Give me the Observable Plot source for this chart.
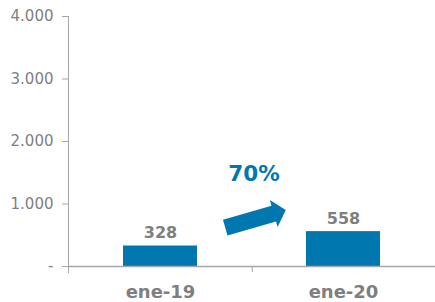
<!DOCTYPE html>
<html>
<head>
<meta charset="utf-8">
<script src="https://cdn.jsdelivr.net/npm/d3@7"></script>
<script src="https://cdn.jsdelivr.net/npm/@observablehq/plot@0.6"></script>
<style>
  html, body { margin: 0; padding: 0; background: #fff; }
  #chart svg { display: block; }
</style>
</head>
<body>
<div id="chart"></div>
<script>
const categories = ["ene-19", "ene-20"];
const values = [328, 558];
const yTicks = [0, 1000, 2000, 3000, 4000];
const yTickLabels = ["-", "1.000", "2.000", "3.000", "4.000"];
const arrowFromY = 610;   // arrow tail level (data units)
const arrowToY = 900;     // arrow tip level (data units)
const growthLabelY = 1376;

const data = categories.map((c, i) => ({cat: c, value: values[i]}));
const growth = Math.round((values[1] / values[0] - 1) * 100) + "%";

const blue = "#0078AF";
const gray = "#7f7f7f";
const lineGray = "#a6a6a6";

// block arrow drawn through the scales
function blockArrow(index, scales, values, dim) {
  const cx = dim.marginLeft + (dim.width - dim.marginLeft - dim.marginRight) / 2 + 4;
  const y0 = scales.y(arrowFromY), y1 = scales.y(arrowToY);
  const halfLen = 31.5;
  const ang = Math.atan2(y1 - y0, 2 * halfLen);
  const cy = (y0 + y1) / 2;
  const ux = Math.cos(ang), uy = Math.sin(ang);
  const px = -uy, py = ux;
  const tailX = cx - ux * halfLen, tailY = cy - uy * halfLen;
  const tipX = cx + ux * halfLen, tipY = cy + uy * halfLen;
  const headLen = 12.5, shaftW = 8.2, headW = 14;
  const bx = tipX - ux * headLen, by = tipY - uy * headLen;
  const pts = [
    [tailX + px * shaftW, tailY + py * shaftW],
    [bx + px * shaftW, by + py * shaftW],
    [bx + px * headW, by + py * headW],
    [tipX, tipY],
    [bx - px * headW, by - py * headW],
    [bx - px * shaftW, by - py * shaftW],
    [tailX - px * shaftW, tailY - py * shaftW]
  ];
  const ns = "http://www.w3.org/2000/svg";
  const path = document.createElementNS(ns, "path");
  path.setAttribute("d", "M" + pts.map(p => p.join(",")).join("L") + "Z");
  path.setAttribute("fill", blue);
  return path;
}

const chart = Plot.plot({
  width: 435,
  height: 302,
  marginLeft: 68,
  marginRight: 0,
  marginTop: 16,
  marginBottom: 36,
  style: {fontFamily: "'DejaVu Sans', Verdana, sans-serif", fontSize: "15px", color: gray, background: "#fff"},
  x: {domain: categories, paddingInner: 0.597, paddingOuter: 0.2985, axis: null},
  y: {domain: [0, 4000], axis: null},
  marks: [
    Plot.barY(data, {x: "cat", y: "value", fill: blue}),
    Plot.ruleY([0], {stroke: lineGray, strokeWidth: 1.5}),
    Plot.axisY({ticks: yTicks, tickFormat: (d) => yTickLabels[yTicks.indexOf(d)], tickSize: 6, tickPadding: 9, stroke: lineGray, fill: gray, fontSize: 15, label: null}),
    Plot.frame({anchor: "left", stroke: lineGray, insetBottom: -6}),
    Plot.ruleX([categories[0]], {stroke: lineGray, dx: 91.75, insetTop: 250, insetBottom: -6}),
    Plot.text(data, {x: "cat", y: "value", text: d => String(d.value), dy: -8, lineAnchor: "bottom", fill: gray, fontWeight: "bold", fontSize: 16}),
    Plot.text(categories, {x: d => d, frameAnchor: "bottom", dy: 31.5, lineAnchor: "bottom", fill: gray, fontWeight: "bold", fontSize: 18}),
    Plot.text([growth], {text: d => d, y: growthLabelY, frameAnchor: "middle", dx: 2, lineAnchor: "bottom", fill: blue, fontWeight: "bold", fontSize: 21.5}),
    blockArrow
  ]
});
document.getElementById("chart").appendChild(chart);
</script>
</body>
</html>
